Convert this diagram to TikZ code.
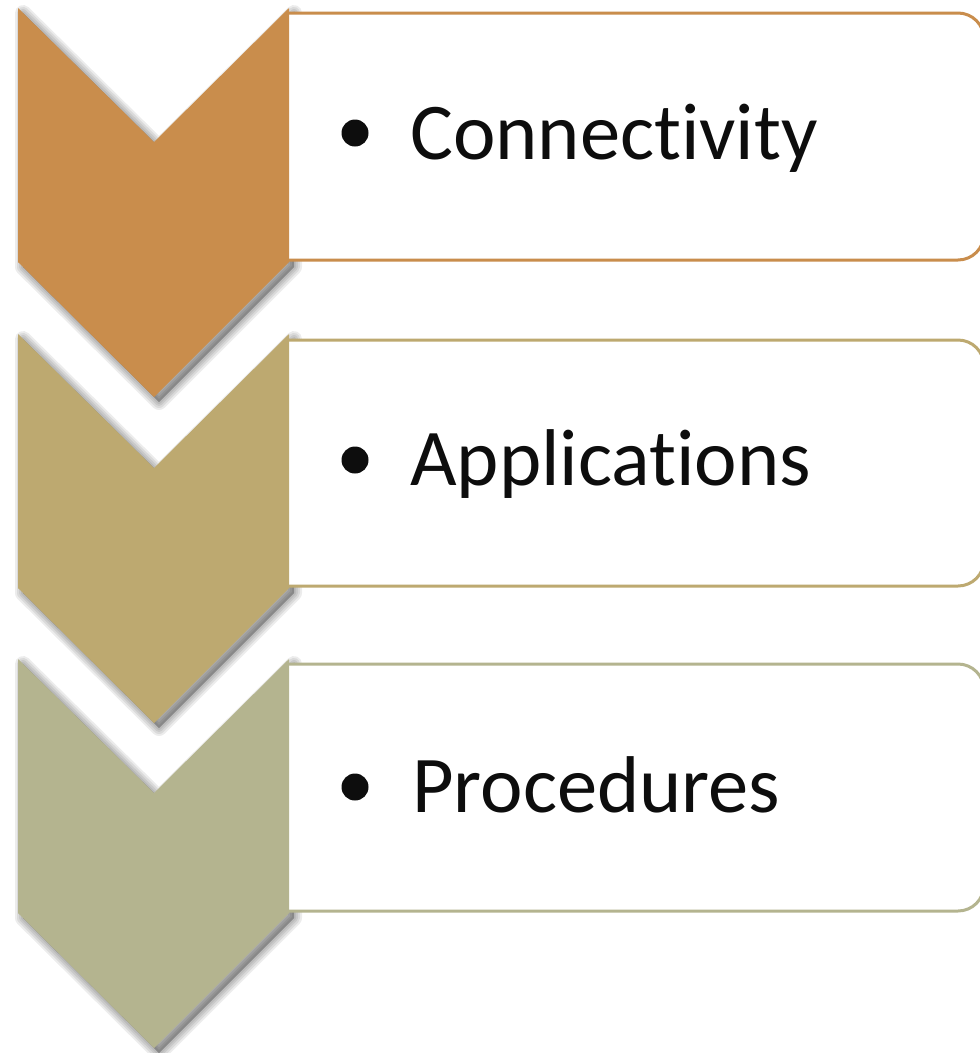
\documentclass[tikz,border=0pt]{standalone}
\usepackage{fontspec}
\setmainfont{Carlito}[Ligatures={NoCommon,NoRequired,NoContextual}]
\definecolor{cA}{HTML}{C98D4C}
\definecolor{cB}{HTML}{BDA970}
\definecolor{cC}{HTML}{B4B48F}
\definecolor{txt}{HTML}{0D0D0D}
\newcommand{\chevpath}[1]{(18,#1) -- (154,#1+134) -- (289,#1) -- (289,#1+254) -- (154,#1+389) -- (18,#1+254) -- cycle}
\newcommand{\chevshadow}[1]{%
  \foreach \w in {16,12,8,4}{%
    \filldraw[black, fill opacity=0.075, draw opacity=0.075, line width=\w pt, line join=round, shift={(5,5)}] \chevpath{#1};
  }%
}
\newcommand{\boxpath}[2]{(289,#1) -- (984,#1) -- (984,#2) -- (289,#2)}
\tikzset{
  boxline/.style={draw=#1, line width=3pt, fill=white, rounded corners=26pt},
  label/.style={anchor=base west, inner sep=0pt, text=txt, font=\fontsize{80.5}{96}\selectfont},
  dot/.style={circle, fill=txt, minimum size=27pt, inner sep=0pt}
}
\begin{document}
\begin{tikzpicture}[x=1pt, y=-1pt]
\useasboundingbox (0,0) rectangle (980,1053);
\clip (0,0) rectangle (980,1053);
\fill[white] (0,0) rectangle (980,1053);
% shadows
\chevshadow{659}
\chevshadow{334}
\chevshadow{8}
% boxes
\path[boxline=cA] \boxpath{13}{260};
\path[boxline=cB] \boxpath{340}{586};
\path[boxline=cC] \boxpath{664}{911};
% chevrons
\fill[cC] \chevpath{659};
\fill[cB] \chevpath{334};
\fill[cA] \chevpath{8};
% bullets and labels
\node[dot] (b1) at (355,133) {};
\node[label] (t1) at (410,159) {Connectivity};
\node[dot] (b2) at (355,460) {};
\node[label] (t2) at (410,485) {Applications};
\node[dot] (b3) at (355,787) {};
\node[label] (t3) at (412,812) {Procedures};
\end{tikzpicture}
\end{document}
